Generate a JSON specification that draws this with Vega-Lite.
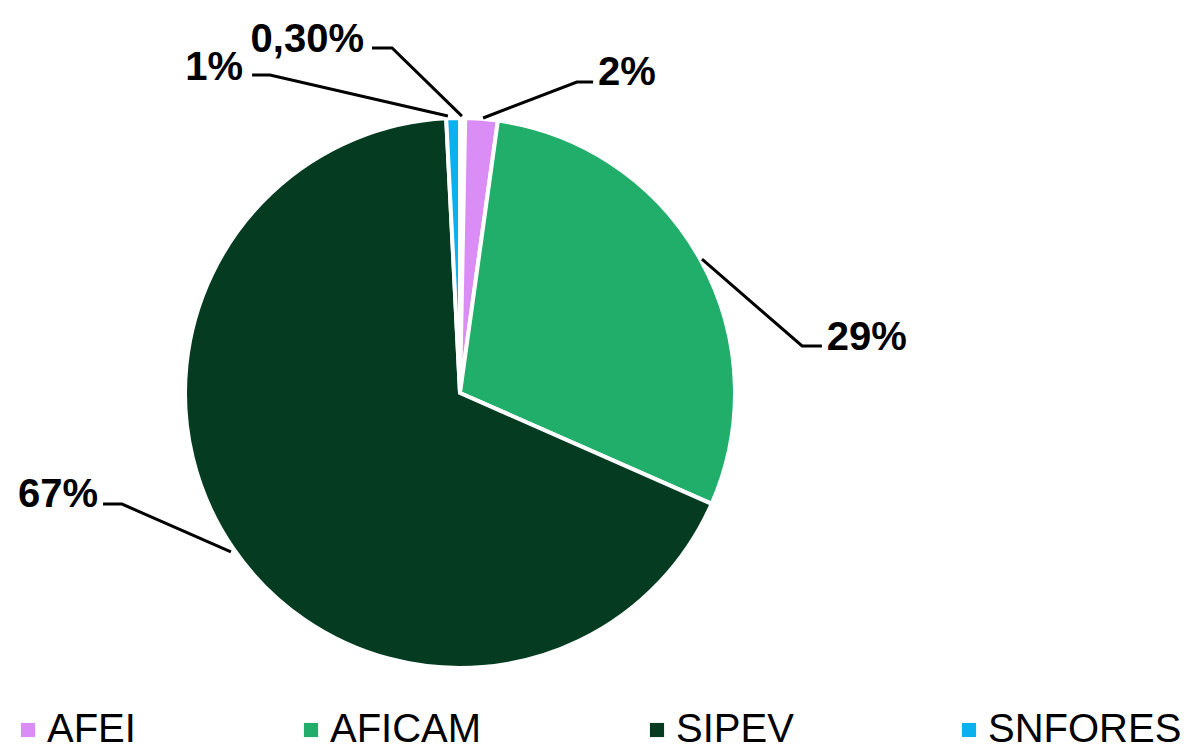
{
  "$schema": "https://vega.github.io/schema/vega-lite/v6.json",
  "width": 1203,
  "height": 748,
  "padding": 0,
  "autosize": "none",
  "background": "white",
  "config": {"view": {"stroke": null}, "font": "Liberation Sans"},
  "datasets": {
    "slices": [
      {"cat": "Outros", "value": 0.3, "ord": 0},
      {"cat": "AFEI", "value": 1.9, "ord": 1},
      {"cat": "AFICAM", "value": 29.4, "ord": 2},
      {"cat": "SIPEV", "value": 67.6, "ord": 3},
      {"cat": "SNFORES", "value": 0.8, "ord": 4}
    ],
    "leaders": [
      {"id": "o", "pt": 0, "x": -0.320, "y": 1.255},
      {"id": "o", "pt": 1, "x": -0.247, "y": 1.255},
      {"id": "o", "pt": 2, "x": 0.007, "y": 1.007},
      {"id": "s", "pt": 0, "x": -0.756, "y": 1.156},
      {"id": "s", "pt": 1, "x": -0.691, "y": 1.156},
      {"id": "s", "pt": 2, "x": -0.044, "y": 1.007},
      {"id": "a", "pt": 0, "x": 0.084, "y": 1.0},
      {"id": "a", "pt": 1, "x": 0.425, "y": 1.131},
      {"id": "a", "pt": 2, "x": 0.484, "y": 1.131},
      {"id": "b", "pt": 0, "x": 0.880, "y": 0.487},
      {"id": "b", "pt": 1, "x": 1.244, "y": 0.171},
      {"id": "b", "pt": 2, "x": 1.316, "y": 0.171},
      {"id": "c", "pt": 0, "x": -1.298, "y": -0.404},
      {"id": "c", "pt": 1, "x": -1.229, "y": -0.404},
      {"id": "c", "pt": 2, "x": -0.833, "y": -0.578}
    ],
    "labelsLeft": [
      {"label": "0,30%", "x": -0.349, "y": 1.240},
      {"label": "1%", "x": -0.789, "y": 1.138},
      {"label": "67%", "x": -1.316, "y": -0.415}
    ],
    "labelsRight": [
      {"label": "2%", "x": 0.502, "y": 1.120},
      {"label": "29%", "x": 1.334, "y": 0.156}
    ]
  },
  "layer": [
    {
      "data": {"name": "slices"},
      "mark": {"type": "arc", "outerRadius": 275, "stroke": "white", "strokeWidth": 4},
      "encoding": {
        "x": {"datum": 0, "type": "quantitative", "scale": {"domain": [-1.6727, 2.7018], "nice": false, "zero": false}, "axis": null},
        "y": {"datum": 0, "type": "quantitative", "scale": {"domain": [-1.2909, 1.4291], "nice": false, "zero": false}, "axis": null},
        "theta": {"field": "value", "type": "quantitative", "stack": true},
        "order": {"field": "ord", "type": "quantitative"},
        "color": {
          "condition": {"test": "datum.cat === 'Outros'", "value": "white"},
          "field": "cat",
          "type": "nominal",
          "scale": {"domain": ["AFEI", "AFICAM", "SIPEV", "SNFORES"], "range": ["#DB8DF6", "#20AE6A", "#053B20", "#0BB0EE"]},
          "legend": {
            "title": null,
            "orient": "none",
            "legendX": 8,
            "legendY": 710,
            "direction": "horizontal",
            "symbolType": "square",
            "symbolSize": 200,
            "symbolStrokeWidth": 0,
            "labelFontSize": 40,
            "labelFont": "Liberation Sans",
            "labelColor": "black",
            "labelLimit": 400,
            "labelOffset": -1,
            "columnPadding": 155,
            "padding": 0
          }
        }
      }
    },
    {
      "data": {"name": "leaders"},
      "mark": {"type": "line", "color": "black", "strokeWidth": 3},
      "encoding": {
        "x": {"field": "x", "type": "quantitative"},
        "y": {"field": "y", "type": "quantitative"},
        "detail": {"field": "id"},
        "order": {"field": "pt", "type": "quantitative"}
      }
    },
    {
      "data": {"name": "labelsLeft"},
      "mark": {"type": "text", "align": "right", "baseline": "alphabetic", "fontSize": 40, "fontWeight": "bold", "color": "black"},
      "encoding": {
        "x": {"field": "x", "type": "quantitative"},
        "y": {"field": "y", "type": "quantitative"},
        "text": {"field": "label"}
      }
    },
    {
      "data": {"name": "labelsRight"},
      "mark": {"type": "text", "align": "left", "baseline": "alphabetic", "fontSize": 40, "fontWeight": "bold", "color": "black"},
      "encoding": {
        "x": {"field": "x", "type": "quantitative"},
        "y": {"field": "y", "type": "quantitative"},
        "text": {"field": "label"}
      }
    }
  ]
}
